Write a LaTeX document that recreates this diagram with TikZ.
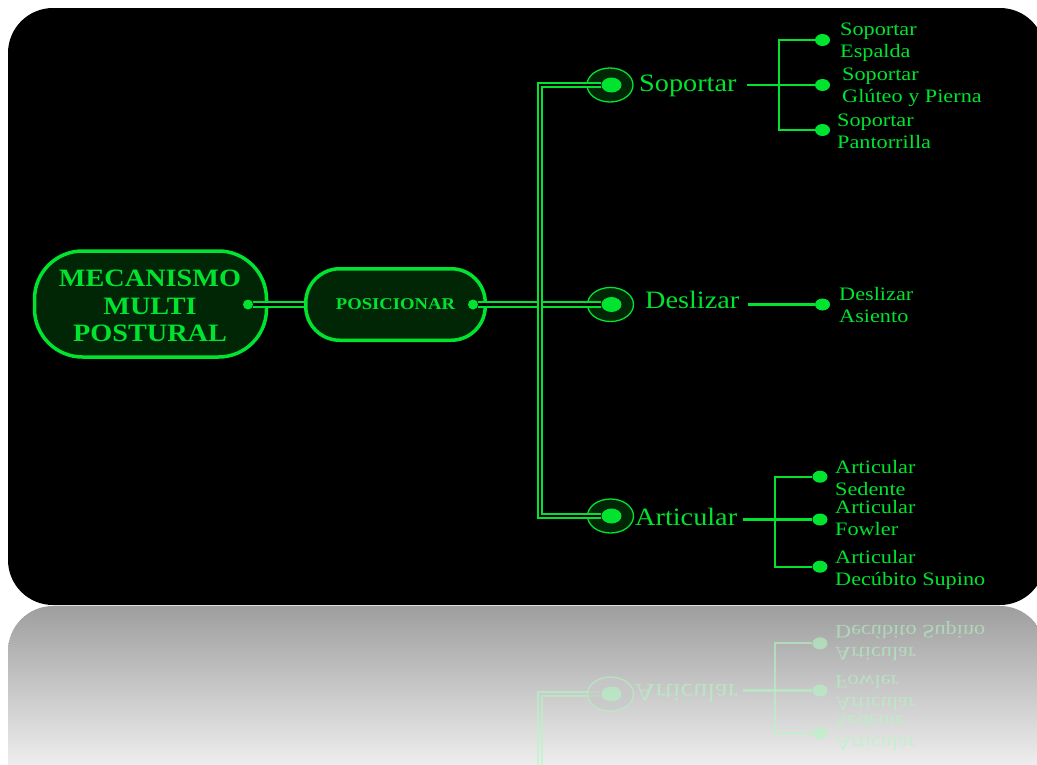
\documentclass[tikz,border=0pt]{standalone}
\usepackage{fontspec}
\setmainfont{Liberation Serif}
\usetikzlibrary{shapes.geometric}
\definecolor{neon}{RGB}{0,228,48}
\definecolor{dgreen}{RGB}{0,38,6}
\colorlet{lc}{neon}
\colorlet{rf}{dgreen}
\newcommand\wbig[1]{\scalebox{1.13}[1]{#1}}
\newcommand\wsub[1]{\scalebox{1.17}[1]{\begin{tabular}[t]{@{}l@{}}#1\end{tabular}}}
\tikzset{
 dbl/.style={draw=lc, line width=1.8pt, double=black, double distance=2.8pt},
 rline/.style={draw=lc, line width=1.8pt},
 ring/.style={ellipse, draw=lc, line width=1.3pt, fill=rf, minimum width=46pt, minimum height=34pt, inner sep=0pt},
 bigdot/.style={ellipse, fill=lc, minimum width=20pt, minimum height=15pt, inner sep=0pt},
 subdot/.style={ellipse, fill=lc, minimum width=15pt, minimum height=12pt, inner sep=0pt},
 biglabel/.style={anchor=base west, inner sep=0pt, text=lc, font=\fontsize{25}{30}\selectfont},
 sublabel/.style={anchor=base west, inner sep=0pt, text=lc, font=\fontsize{19}{22}\selectfont},
 branch/.style={draw=lc, line width=2.3pt},
 mainbox/.style={draw=lc, fill=rf, line width=3.5pt, inner sep=0pt, text=lc},
 smalldot/.style={circle, fill=lc, minimum size=10pt, inner sep=0pt}
}
\newcommand\artgroup[1]{%
 \node[ring] (cart#1) at (610.5,516) {};
 \node[bigdot] (dart#1) at (611.5,516) {};
 \node[biglabel] (lart#1) at (635,525.7) {\wbig{Articular}};
 \node[subdot] (aa#1) at (820,476.7) {};
 \node[subdot] (ab#1) at (820,519.5) {};
 \node[subdot] (ac#1) at (820,566.7) {};
 \coordinate (asta#1) at (743,519.5);
 \coordinate (abr#1) at (775,519.5);
 \draw[branch] (asta#1) -- (ab#1);
 \draw[branch] (aa#1) -| (abr#1) |- (ac#1);
 \node[sublabel] (laa#1) at (835,473) {\wsub{Articular\\Sedente}};
 \node[sublabel] (lab#1) at (835,513) {\wsub{Articular\\Fowler}};
 \node[sublabel] (lac#1) at (835,563) {\wsub{Articular\\Decúbito Supino}};
}
\begin{document}
\begin{tikzpicture}[x=1pt, y=-1pt]
\useasboundingbox (0,0) rectangle (1037,764);
\clip (0,0) rectangle (1037,764);
\fill[white] (0,0) rectangle (1037,764);
\fill[black, rounded corners=45pt] (8,8) rectangle (1045,605);
% reflection
\shade[top color=black!38, bottom color=white] (8,800) [rounded corners=45pt] -- (8,606) -- (1045,606) -- (1045,800) [sharp corners] -- cycle;
\begin{scope}
 \clip (8,606) rectangle (1045,764);
 \colorlet{lc}{neon!30!white}
 \colorlet{rf}{white!78!black}
 \begin{scope}[cm={1,0,0,-1,(0pt,-1210pt)}, transform shape, opacity=0.6]
  \draw[rline] (537.7,430) -- (537.7,518.3) -- (600,518.3);
  \draw[rline] (542.3,430) -- (542.3,513.7) -- (600,513.7);
  \artgroup{R}
 \end{scope}
\end{scope}
% main nodes
\node[mainbox, rounded corners=48pt, minimum width=232pt, minimum height=106pt] (mec) at (150.5,304) {};
\node[text=neon, inner sep=0pt, font=\bfseries\fontsize{25}{27.5}\selectfont] (mectxt) at (150,308.5) {\wbig{\begin{tabular}{@{}c@{}}MECANISMO\\MULTI\\POSTURAL\end{tabular}}};
\node[mainbox, rounded corners=34pt, minimum width=179.5pt, minimum height=71.5pt, font=\bfseries\fontsize{16.5}{20}\selectfont] (pos) at (395.5,304.5) {\wbig{POSICIONAR}};
\node[smalldot] (mdot) at (248,304.5) {};
\node[smalldot] (pdot) at (473,304.5) {};
% rings
\node[ring] (csop) at (610,85) {};
\node[bigdot] (dsop) at (611.5,85) {};
\node[ring] (cdes) at (610.5,304.5) {};
\node[bigdot] (ddes) at (611.5,304.5) {};
\artgroup{}
\coordinate (tk) at (540,304.5);
% trunk connectors
\draw[dbl] (mdot) -- (pos);
\draw[dbl] (pdot) -- (ddes);
\draw[dbl] (dsop) -| (tk) |- (dart);
% Soportar group
\node[biglabel] (lsop) at (639,91) {\wbig{Soportar}};
\node[subdot] (sa) at (822.5,40) {};
\node[subdot] (sb) at (822.5,85) {};
\node[subdot] (sc) at (822.5,130) {};
\coordinate (ssta) at (747,85);
\coordinate (sbr) at (779,85);
\draw[branch] (ssta) -- (sb);
\draw[branch] (sa) -| (sbr) |- (sc);
\node[sublabel] (lsa) at (840,35) {\wsub{Soportar\\Espalda}};
\node[sublabel] (lsb) at (842,80) {\wsub{Soportar\\Glúteo y Pierna}};
\node[sublabel] (lsc) at (837,126.7) {\wsub{Soportar\\Pantorrilla}};
% Deslizar group
\node[biglabel] (ldes) at (645,308) {\wbig{Deslizar}};
\node[subdot] (ea) at (822.5,304.5) {};
\coordinate (esta) at (748,304.5);
\draw[branch] (esta) -- (ea);
\node[sublabel] (lea) at (839,300) {\wsub{Deslizar\\Asiento}};
\end{tikzpicture}
\end{document}
